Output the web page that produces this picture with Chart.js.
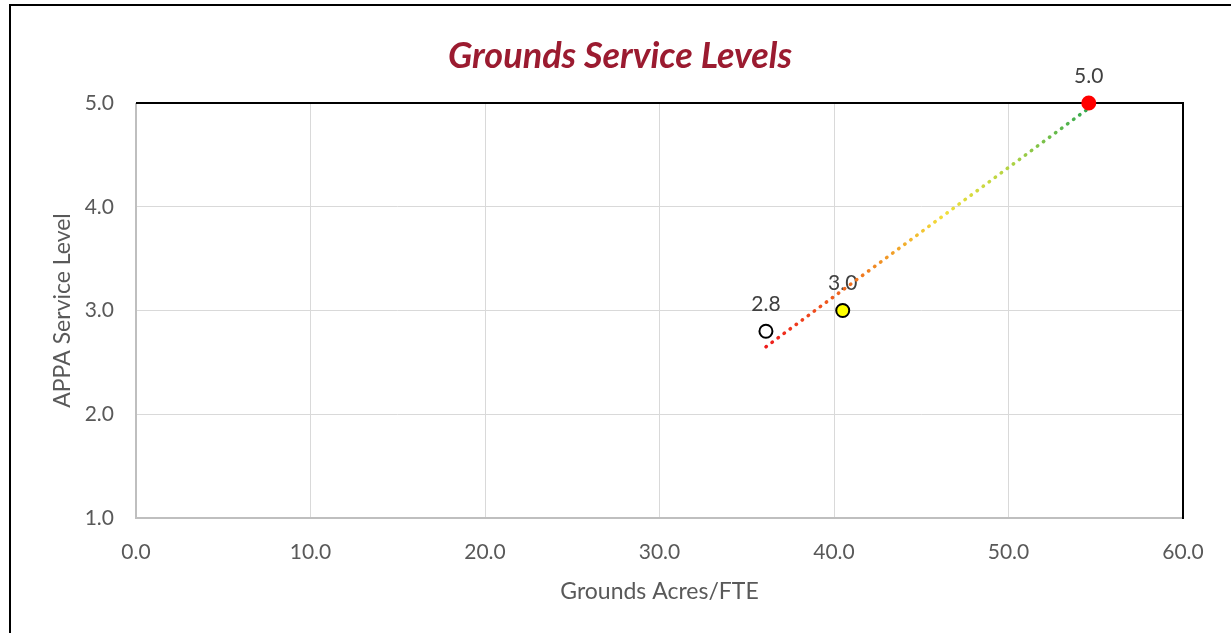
<!DOCTYPE html>
<html>
<head>
<meta charset="utf-8">
<script src="https://cdn.jsdelivr.net/npm/chart.js@4"></script>
<style>
    html, body { margin: 0; padding: 0; background: #fff; }
    #wrap { width: 1231px; height: 633px; position: relative; }
</style>
</head>
<body>
<div id="wrap"><canvas id="serviceChart" width="1231" height="633"></canvas></div>
<script>
// Acres per FTE vs. APPA service level
const acresPerFte = [36.1, 40.5, 54.6];
const serviceLevels = [2.8, 3.0, 5.0];
const pointFills = ['#ffffff', '#ffff00', '#ff0000'];
const pointBorders = ['#000000', '#000000', '#ff0000'];

// Trend line end points
const trendX = [36.1, 54.6];
const trendY = [2.65, 4.95];

const xTicks = [0, 10, 20, 30, 40, 50, 60];
const yTicks = [1, 2, 3, 4, 5];

const chartTitle = 'Grounds Service Levels';
const labelFont = "Lato, 'Liberation Sans', sans-serif";

// Gradient along the trend line: red -> orange -> yellow -> green
function trendGradient(context) {
    const chart = context.chart;
    const { ctx, chartArea, scales } = chart;
    if (!chartArea) return '#e83020';
    const x0 = scales.x.getPixelForValue(trendX[0]);
    const x1 = scales.x.getPixelForValue(trendX[trendX.length - 1]);
    const g = ctx.createLinearGradient(x0, 0, x1, 0);
    g.addColorStop(0, '#ee1c1c');
    g.addColorStop(0.3, '#f07a1e');
    g.addColorStop(0.55, '#f2df3a');
    g.addColorStop(0.75, '#b4d444');
    g.addColorStop(1, '#2fa84f');
    return g;
}

const framePlugin = {
    id: 'frame',
    beforeDraw(chart) {
        const ctx = chart.ctx;
        ctx.save();
        // outer frame (left and top edges)
        ctx.strokeStyle = '#000';
        ctx.lineWidth = 2;
        ctx.beginPath();
        ctx.moveTo(10, 633);
        ctx.lineTo(10, 5);
        ctx.lineTo(1231, 5);
        ctx.stroke();

        // title, centred on the frame
        ctx.fillStyle = '#9b1b30';
        ctx.font = 'italic bold 36px ' + labelFont;
        ctx.textAlign = 'center';
        ctx.textBaseline = 'middle';
        ctx.fillText(chartTitle, 620, 56);
        ctx.restore();
    },
    beforeDatasetsDraw(chart) {
        const { ctx, chartArea } = chart;
        ctx.save();
        ctx.lineWidth = 2;
        ctx.strokeStyle = '#bfbfbf';
        ctx.beginPath();
        ctx.moveTo(chartArea.left, chartArea.top);
        ctx.lineTo(chartArea.left, chartArea.bottom);
        ctx.lineTo(chartArea.right, chartArea.bottom);
        ctx.stroke();
        ctx.strokeStyle = '#000';
        ctx.beginPath();
        ctx.moveTo(chartArea.left, chartArea.top);
        ctx.lineTo(chartArea.right, chartArea.top);
        ctx.lineTo(chartArea.right, chartArea.bottom + 1);
        ctx.stroke();

        // value labels above the points
        const meta = chart.getDatasetMeta(1);
        ctx.fillStyle = '#404040';
        ctx.font = '21px ' + labelFont;
        ctx.textAlign = 'center';
        ctx.textBaseline = 'middle';
        meta.data.forEach((pt, i) => {
            ctx.fillText(serviceLevels[i].toFixed(1), pt.x, pt.y - 27);
        });
        ctx.restore();
    }
};

const ctx = document.getElementById('serviceChart').getContext('2d');
new Chart(ctx, {
    type: 'scatter',
    data: {
        datasets: [
            {
                type: 'line',
                label: 'Trend',
                data: trendX.map((x, i) => ({ x: x, y: trendY[i] })),
                borderColor: trendGradient,
                borderWidth: 3.5,
                borderDash: [0.5, 7],
                borderCapStyle: 'round',
                pointRadius: 0,
                fill: false,
                clip: false,
                order: 2
            },
            {
                label: 'Service Level',
                data: acresPerFte.map((x, i) => ({ x: x, y: serviceLevels[i] })),
                backgroundColor: pointFills,
                borderColor: pointBorders,
                borderWidth: 2,
                pointRadius: 6.5,
                clip: false,
                order: 1
            }
        ]
    },
    options: {
        responsive: false,
        animation: false,
        layout: { padding: { top: 103, right: 48, bottom: 0, left: 0 } },
        plugins: {
            legend: { display: false },
            tooltip: { enabled: false },
            title: { display: false }
        },
        scales: {
            x: {
                type: 'linear',
                min: xTicks[0],
                max: xTicks[xTicks.length - 1],
                afterBuildTicks: scale => { scale.ticks = xTicks.map(v => ({ value: v })); },
                afterFit: scale => { scale.height = 115; },
                border: { display: false },
                grid: { color: '#d9d9d9', drawTicks: false },
                ticks: {
                    padding: 22,
                    color: '#595959',
                    font: { family: labelFont, size: 21 },
                    callback: v => v.toFixed(1)
                },
                title: {
                    display: true,
                    text: 'Grounds Acres/FTE',
                    color: '#595959',
                    font: { family: labelFont, size: 23, lineHeight: 1.2 },
                    padding: { top: 0, bottom: 28 }
                }
            },
            y: {
                type: 'linear',
                min: yTicks[0],
                max: yTicks[yTicks.length - 1],
                afterBuildTicks: scale => { scale.ticks = yTicks.map(v => ({ value: v })); },
                afterFit: scale => { scale.width = 136; },
                border: { display: false },
                grid: { color: '#d9d9d9', drawTicks: false },
                ticks: {
                    padding: 22,
                    color: '#595959',
                    font: { family: labelFont, size: 21 },
                    callback: v => v.toFixed(1)
                },
                title: {
                    display: true,
                    text: 'APPA Service Level',
                    color: '#595959',
                    font: { family: labelFont, size: 23, lineHeight: 1.2 },
                    padding: { top: 49, bottom: 0 }
                }
            }
        }
    },
    plugins: [framePlugin]
});
</script>
</body>
</html>
